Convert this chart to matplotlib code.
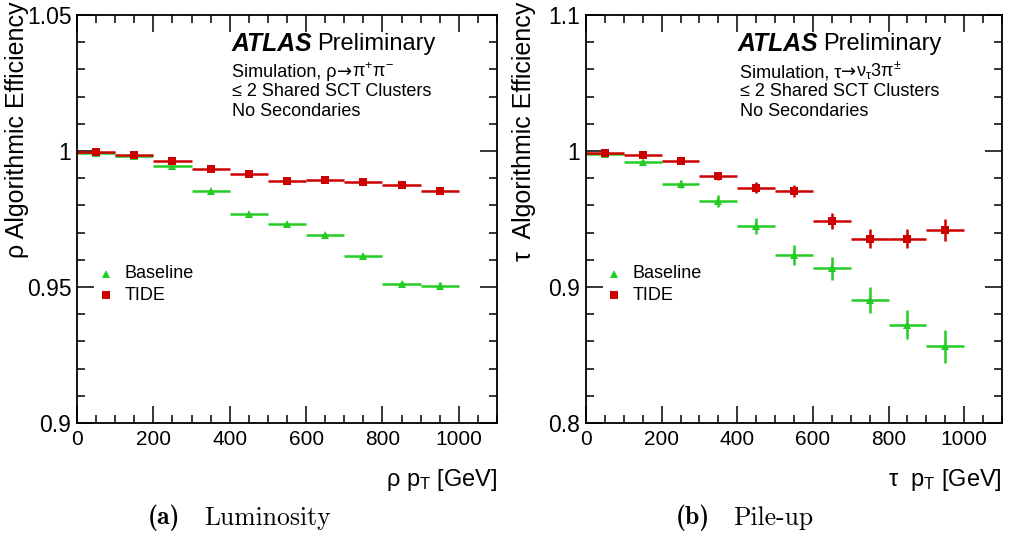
import matplotlib
matplotlib.use("Agg")
import matplotlib.pyplot as plt
from matplotlib.ticker import MultipleLocator, FixedLocator, FixedFormatter
import numpy as np

plt.rcParams['font.family'] = ['Liberation Sans', 'DejaVu Sans']
plt.rcParams['mathtext.fontset'] = 'custom'
plt.rcParams['mathtext.rm'] = 'Liberation Sans'
plt.rcParams['mathtext.it'] = 'Liberation Sans:italic'
plt.rcParams['mathtext.bf'] = 'Liberation Sans:bold'
plt.rcParams['mathtext.default'] = 'regular'

# ---------------- data ----------------
pt_centers = [50, 150, 250, 350, 450, 550, 650, 750, 850, 950]
pt_halfwidth = 50

rho_baseline = [0.9993, 0.9983, 0.9946, 0.9854, 0.9768, 0.9730, 0.9690, 0.9614, 0.9511, 0.9505]
rho_baseline_err = [0.0002, 0.0002, 0.0003, 0.0004, 0.0005, 0.0006, 0.0007, 0.0009, 0.0012, 0.0012]
rho_tide = [0.9997, 0.9985, 0.9964, 0.9932, 0.9915, 0.9890, 0.9893, 0.9887, 0.9874, 0.9854]
rho_tide_err = [0.0001, 0.0002, 0.0002, 0.0003, 0.0003, 0.0003, 0.0004, 0.0004, 0.0005, 0.0005]

tau_baseline = [0.9980, 0.9921, 0.9760, 0.9632, 0.9447, 0.9237, 0.9138, 0.8904, 0.8724, 0.8563]
tau_baseline_err = [0.0008, 0.0015, 0.0030, 0.0045, 0.0060, 0.0074, 0.0085, 0.0096, 0.0110, 0.0120]
tau_tide = [0.9988, 0.9973, 0.9928, 0.9817, 0.9731, 0.9706, 0.9484, 0.9356, 0.9356, 0.9417]
tau_tide_err = [0.0005, 0.0010, 0.0018, 0.0030, 0.0040, 0.0045, 0.0060, 0.0070, 0.0070, 0.0080]

green = '#22cc22'
red = '#cc0000'

W, H = 1009, 537
fig = plt.figure(figsize=(W / 100, H / 100), dpi=100)
renderer = fig.canvas.get_renderer()


def fx(px):
    return px / W


def fy(py):
    return 1 - py / H


def draw_seq(x_px, y_px, pieces, fontsize):
    """Draw text pieces one after another on the same baseline."""
    x = fx(x_px)
    for txt, kw in pieces:
        t = fig.text(x, fy(y_px), txt, fontsize=fontsize, ha='left', va='baseline', **kw)
        bb = t.get_window_extent(renderer=renderer)
        x = bb.x1 / W


panels = [
    dict(left=77, right=497, ylim=(0.9, 1.05), ymajor=[0.9, 0.95, 1.0, 1.05],
         ylabels=['0.9', '0.95', '1', '1.05'], yminor=0.01,
         base=rho_baseline, base_err=rho_baseline_err, tide=rho_tide, tide_err=rho_tide_err,
         ylabel='ρ Algorithmic Efficiency', ylabel_x=17,
         xlabel=r'ρ p$_{T}$ [GeV]',
         sim=[('Simulation, ρ', {}), ('→', dict(family='DejaVu Sans')), (r'π$^{+}$π$^{-}$', {})],
         atlas_x=232, prelim_x=317, text_x=232,
         leg_marker_x=106, leg_text_x=125,
         caption_bold='(a)', caption='Luminosity', cap_bold_x=148, cap_x=204),
    dict(left=586, right=1002, ylim=(0.8, 1.1), ymajor=[0.8, 0.9, 1.0, 1.1],
         ylabels=['0.8', '0.9', '1', '1.1'], yminor=0.02,
         base=tau_baseline, base_err=tau_baseline_err, tide=tau_tide, tide_err=tau_tide_err,
         ylabel='τ  Algorithmic Efficiency', ylabel_x=524,
         xlabel=r'τ  p$_{T}$ [GeV]',
         sim=[('Simulation, τ', {}), ('→', dict(family='DejaVu Sans')), (r'ν$_{τ}$3π$^{±}$', {})],
         atlas_x=738, prelim_x=823, text_x=740,
         leg_marker_x=614, leg_text_x=633,
         caption_bold='(b)', caption='Pile-up', cap_bold_x=676, cap_x=733),
]

top_px, bot_px = 15, 423

for p in panels:
    ax = fig.add_axes([fx(p['left']), fy(bot_px), fx(p['right'] - p['left']), (bot_px - top_px) / H])
    ax.set_xlim(0, 1100)
    ax.set_ylim(*p['ylim'])
    for s in ax.spines.values():
        s.set_linewidth(1.3)

    ax.errorbar(pt_centers, p['base'], xerr=pt_halfwidth, yerr=p['base_err'], fmt='^',
                color=green, ms=6, elinewidth=1.8, capsize=0, mew=0)
    ax.errorbar(pt_centers, p['tide'], xerr=pt_halfwidth, yerr=p['tide_err'], fmt='s',
                color=red, ms=6, elinewidth=1.8, capsize=0, mew=0)

    ax.xaxis.set_major_locator(MultipleLocator(200))
    ax.xaxis.set_minor_locator(MultipleLocator(50))
    ax.yaxis.set_major_locator(FixedLocator(p['ymajor']))
    ax.yaxis.set_major_formatter(FixedFormatter(p['ylabels']))
    ax.yaxis.set_minor_locator(MultipleLocator(p['yminor']))
    ax.tick_params(which='both', direction='in', top=True, right=True, width=1.1)
    ax.tick_params(which='major', length=12)
    ax.tick_params(which='minor', length=6)
    ax.tick_params(axis='x', pad=5, labelsize=15)
    ax.tick_params(axis='y', pad=4, labelsize=16.5)
    ax.set_xticks([0, 200, 400, 600, 800, 1000])
    ax.set_xticklabels(['0', '200', '400', '600', '800', '1000'])

    # y label (top aligned)
    fig.text(fx(p['ylabel_x']), fy(2), p['ylabel'], rotation=90, ha='center', va='top', fontsize=18)
    # x label (right aligned)
    fig.text(fx(p['right']), fy(480), p['xlabel'], ha='right', va='center', fontsize=17)

    # ATLAS label
    fig.text(fx(p['atlas_x']), fy(44), 'ATLAS', fontsize=17.8, fontweight='bold', fontstyle='italic',
             ha='left', va='center')
    fig.text(fx(p['prelim_x']), fy(44), 'Preliminary', fontsize=17, ha='left', va='center')
    draw_seq(p['text_x'], 77, p['sim'], 13)
    for txt, yy in [('≤ 2 Shared SCT Clusters', 92), ('No Secondaries', 112)]:
        fig.text(fx(p['text_x']), fy(yy), txt, fontsize=13, ha='left', va='center')

    # legend
    fig.lines.append(plt.Line2D([fx(p['leg_marker_x'])], [fy(274)], marker='^', color=green, ms=5.5, mew=0,
                                ls='none', transform=fig.transFigure))
    fig.lines.append(plt.Line2D([fx(p['leg_marker_x'])], [fy(295)], marker='s', color=red, ms=5.5, mew=0,
                                ls='none', transform=fig.transFigure))
    fig.text(fx(p['leg_text_x']), fy(273), 'Baseline', fontsize=13, ha='left', va='center')
    fig.text(fx(p['leg_text_x']), fy(295), 'TIDE', fontsize=13, ha='left', va='center')

    # caption
    fig.text(fx(p['cap_bold_x']), fy(518), p['caption_bold'], fontsize=18.5, family='cmb10',
             ha='left', va='center')
    fig.text(fx(p['cap_x']), fy(518), p['caption'], fontsize=18.5, family='cmr10',
             ha='left', va='center')

fig.savefig('out.png', dpi=100)
